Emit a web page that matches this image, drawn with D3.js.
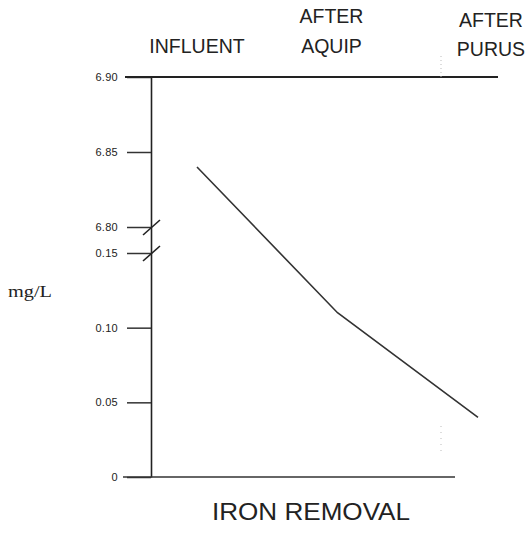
<!DOCTYPE html>
<html>
<head>
<meta charset="utf-8">
<script src="https://cdn.jsdelivr.net/npm/d3@7"></script>
<style>
  body { margin: 0; background: #fff; }
  svg text { font-family: "Liberation Sans", Arial, sans-serif; fill: #222; }
</style>
</head>
<body>
<svg id="chart" width="532" height="534"></svg>
<script>
// iron removal, mg/L at each stage
var stages = ['INFLUENT', 'AFTER AQUIP', 'AFTER PURUS']
var ironValues = [6.84, 0.11, 0.04]
var tickValues = [0, 0.05, 0.10, 0.15, 6.80, 6.85, 6.90]
var tickLabels = ['0', '0.05', '0.10', '0.15', '6.80', '6.85', '6.90']
var breakLow = 0.15, breakHigh = 6.80

var svg = d3.select('#chart')

// broken axis: two linear pieces joined through a small gap
var y = d3.scaleLinear()
  .domain([0, breakLow, breakHigh, 6.90])
  .range([477, 253, 227, 77])

var x = d3.scalePoint()
  .domain(stages)
  .range([197, 478])

var axisX = 151

var yAxis = d3.axisLeft(y)
  .tickValues(tickValues)
  .tickSize(24)
  .tickSizeOuter(0)
  .tickPadding(9)
  .tickFormat(function(d, i){ return tickLabels[i] })

var gAxis = svg.append('g')
  .attr('transform', 'translate(' + axisX + ',0)')
  .call(yAxis)
gAxis.select('.domain').attr('stroke', '#222').attr('stroke-width', 1.6)
gAxis.selectAll('.tick line').attr('stroke', '#333').attr('stroke-width', 1.5)
gAxis.selectAll('.tick text')
  .attr('fill', '#333')
  .style('font-size', '11px')
  .style('letter-spacing', '0.3px')
  .style('font-family', '"Liberation Sans", Arial, sans-serif')

// break marks
;[breakHigh, breakLow].forEach(function(v){
  svg.append('line')
    .attr('x1', axisX - 8).attr('y1', y(v) + 8)
    .attr('x2', axisX + 9).attr('y2', y(v) - 7)
    .attr('stroke', '#222').attr('stroke-width', 1.6)
})

// top and bottom rules
svg.append('line')
  .attr('x1', 125).attr('x2', 498)
  .attr('y1', y(6.90)).attr('y2', y(6.90))
  .attr('stroke', '#222').attr('stroke-width', 1.8)
svg.append('line')
  .attr('x1', 123).attr('x2', 455)
  .attr('y1', y(0)).attr('y2', y(0))
  .attr('stroke', '#333').attr('stroke-width', 1.5)

// faint dotted remnants from the scan
svg.append('line')
  .attr('x1', 441).attr('x2', 441).attr('y1', 56).attr('y2', y(6.90))
  .attr('stroke', '#bbb').attr('stroke-width', 1).attr('stroke-dasharray', '1,3')
svg.append('line')
  .attr('x1', 441).attr('x2', 441).attr('y1', 426).attr('y2', 456)
  .attr('stroke', '#bbb').attr('stroke-width', 1).attr('stroke-dasharray', '1,5')

// data line
var line = d3.line()
  .x(function(d, i){ return x(stages[i]) })
  .y(function(d){ return y(d) })
svg.append('path')
  .datum(ironValues)
  .attr('d', line)
  .attr('fill', 'none')
  .attr('stroke', '#333')
  .attr('stroke-width', 1.6)

// stage labels across the top
var labelRows = {
  'INFLUENT': [53],
  'AFTER AQUIP': [23, 53],
  'AFTER PURUS': [27, 56]
}
stages.forEach(function(s, i){
  var words = s === 'INFLUENT' ? [s] : s.split(' ')
  var cx = x(s) + (i === 0 ? 0 : i === 1 ? -6 : 13)
  words.forEach(function(w, j){
    svg.append('text')
      .attr('x', cx)
      .attr('y', labelRows[s][j])
      .attr('text-anchor', 'middle')
      .style('font-size', '19.5px')
      .text(w)
  })
})

// axis title and chart title
svg.append('text')
  .attr('x', 8).attr('y', 297)
  .attr('textLength', 44).attr('lengthAdjust', 'spacingAndGlyphs')
  .style('font-family', '"Liberation Serif", "Times New Roman", serif')
  .style('font-size', '16px')
  .text('mg/L')

svg.append('text')
  .attr('x', 212).attr('y', 520)
  .attr('textLength', 198).attr('lengthAdjust', 'spacingAndGlyphs')
  .style('font-size', '23px')
  .text('IRON REMOVAL')
</script>
</body>
</html>
